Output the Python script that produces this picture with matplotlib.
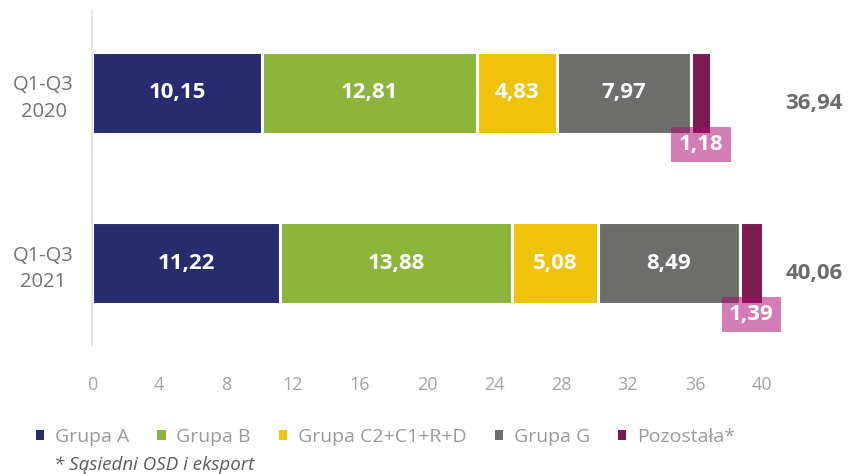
import matplotlib
matplotlib.use("Agg")
import matplotlib.pyplot as plt
import numpy as np
from matplotlib.patches import Patch

plt.rcParams["font.family"] = ["Open Sans", "DejaVu Sans"]

# ─── Data ──────────────────────────────────────────────────────────────────
CATEGORIES = ["Q1-Q3\n2020", "Q1-Q3\n2021"]
SERIES = ["Grupa A", "Grupa B", "Grupa C2+C1+R+D", "Grupa G", "Pozostała*"]
VALUES = {
    "Grupa A":         [10.15, 11.22],
    "Grupa B":         [12.81, 13.88],
    "Grupa C2+C1+R+D": [4.83, 5.08],
    "Grupa G":         [7.97, 8.49],
    "Pozostała*":      [1.18, 1.39],
}
TOTALS = [36.94, 40.06]
X_TICKS = [0, 4, 8, 12, 16, 20, 24, 28, 32, 36, 40]
FOOTNOTE = "* Sąsiedni OSD i eksport"

# ─── Style ─────────────────────────────────────────────────────────────────
COLORS = ["#272c6f", "#8db53b", "#efc20b", "#6d6d6b", "#7a1a4e"]
BOX_COLOR = "#ad056f"
TOTAL_LABEL_X = 43.1


def fmt(v):
    return f"{v:.2f}".replace(".", ",")


fig = plt.figure(figsize=(8.51, 4.74), dpi=100)
ax = fig.add_axes([92 / 851, 129 / 474, 670 / 851, 335 / 474])

ypos = np.array([1, 0])
left = np.zeros(len(CATEGORIES))
for i, (name, color) in enumerate(zip(SERIES, COLORS)):
    vals = np.array(VALUES[name])
    ax.barh(ypos, vals, left=left, height=0.48, color=color,
            edgecolor="white", linewidth=2.2, zorder=2)
    for y, l, v in zip(ypos, left, vals):
        xc = l + v / 2
        if i < len(SERIES) - 1:
            ax.text(xc, y, fmt(v), ha="center", va="center", color="white",
                    fontsize=16, fontweight="bold", zorder=3)
        else:
            ax.annotate(fmt(v), xy=(xc, y), xytext=(0, -37),
                        textcoords="offset points", ha="center", va="center",
                        color="white", fontsize=16, fontweight="bold",
                        zorder=4,
                        bbox=dict(boxstyle="square,pad=0.33", fc=BOX_COLOR,
                                  ec="none", alpha=0.52))
    left += vals

for y, t in zip(ypos, TOTALS):
    ax.annotate(fmt(t), xy=(TOTAL_LABEL_X, y), xytext=(0, -7.5),
                textcoords="offset points", ha="center", va="center",
                color="#6b6b6b", fontsize=16, fontweight="bold",
                annotation_clip=False)

ax.set_xlim(0, 40)
ax.set_ylim(-0.482, 1.488)
ax.set_xticks(X_TICKS)
ax.set_xticklabels([str(t) for t in X_TICKS], fontsize=13, color="#a3a3a3")
ax.set_yticks(ypos)
ax.set_yticklabels(CATEGORIES, fontsize=14.5, color="#737373",
                   linespacing=1.45)
for lab in ax.get_yticklabels():
    lab.set_multialignment("center")
ax.tick_params(axis="x", length=0, pad=22)
ax.tick_params(axis="y", length=0, pad=13)

for side in ["top", "right", "bottom"]:
    ax.spines[side].set_visible(False)
ax.spines["left"].set_color("#e3e3e3")
ax.spines["left"].set_linewidth(1.2)

handles = [Patch(facecolor=c, edgecolor="none") for c in COLORS]
fig.legend(handles, SERIES, loc="center left",
           bbox_to_anchor=(36 / 851, 1 - 437 / 474), ncol=5, frameon=False,
           fontsize=14, labelcolor="#9a9a9a", handlelength=0.42,
           handleheight=0.42, handletextpad=0.55, columnspacing=1.45,
           borderpad=0, borderaxespad=0)

fig.text(54 / 851, 1 - 465 / 474, FOOTNOTE, ha="left", va="center",
         fontsize=13.5, style="italic", color="#5c5c5c")

fig.savefig("out.png", dpi=100)
